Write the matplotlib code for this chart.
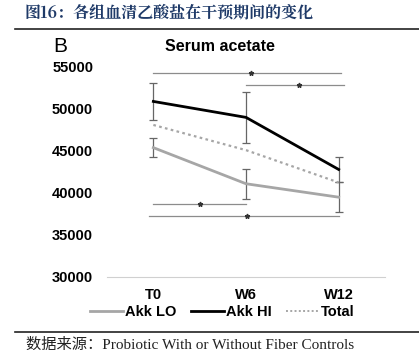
import numpy as np
import matplotlib.pyplot as plt
from matplotlib.lines import Line2D

# serum acetate over the intervention
timepoints = ["T0", "W6", "W12"]
akk_lo = [45400, 41100, 39500]
akk_lo_hi_err = [46500, 42800, 41300]
akk_lo_lo_err = [44300, 39250, 37700]
akk_hi = [50900, 49000, 42800]
akk_hi_hi_err = [53050, 52050, 44300]
akk_hi_lo_err = [48700, 46000, 41250]
total = [48100, 45100, 41250]

# significance brackets: (start idx, end idx, level, star position)
sig_start = [0, 1, 0, -0.05]
sig_end = [2.03, 2.06, 1.0, 2.0]
sig_level = [54250, 52850, 38650, 37250]
sig_star = [1.05, 1.57, 0.5, 1.01]

yticks = [30000, 35000, 40000, 45000, 50000, 55000]

plt.rcParams['font.family'] = ['Liberation Sans', 'DejaVu Sans']

fig = plt.figure(figsize=(4.19, 3.5), dpi=100)
ax = fig.add_axes([0.2554, 0.2086, 0.6635, 0.624])

x = np.arange(len(timepoints))

def err(vals, lo, hi):
    v = np.array(vals)
    return [v - np.array(lo), np.array(hi) - v]

ax.errorbar(x, akk_lo, yerr=err(akk_lo, akk_lo_lo_err, akk_lo_hi_err),
            color="#a6a6a6", lw=2, ecolor="#666666", elinewidth=0.9,
            capsize=3, capthick=0.9)
ax.errorbar(x, akk_hi, yerr=err(akk_hi, akk_hi_lo_err, akk_hi_hi_err),
            color="black", lw=2, ecolor="#666666", elinewidth=0.9,
            capsize=3, capthick=0.9)
ax.plot(x, total, color="#a6a6a6", lw=1.6, ls=(0, (1.2, 1.5)))

for s, e, lvl, st in zip(sig_start, sig_end, sig_level, sig_star):
    ax.plot([s, e], [lvl, lvl], color="#8c8c8c", lw=0.9)
    ax.plot(st, lvl, marker="*", color="#333333", ms=3.5)

ax.set_xlim(-0.5, 2.5)
ax.set_ylim(30000, 56000)
ax.set_yticks(yticks)
ax.set_yticklabels([str(v) for v in yticks], fontsize=10.5, fontweight="bold")
ax.set_xticks(x)
ax.set_xticklabels(timepoints, fontsize=10.5, fontweight="bold")
ax.tick_params(length=0)
ax.tick_params(axis="x", pad=8)
ax.tick_params(axis="y", pad=10)
for side in ["top", "right", "left"]:
    ax.spines[side].set_visible(False)
ax.spines["bottom"].set_color("#d0d0d0")

handles = [Line2D([], [], color="#a6a6a6", lw=2),
           Line2D([], [], color="black", lw=2),
           Line2D([], [], color="#a6a6a6", lw=1.4, ls=(0, (1, 1.2)))]
fig.legend(handles, ["Akk LO", "Akk HI", "Total"], loc="center",
           bbox_to_anchor=(0.53, 0.108), ncol=3, frameon=False,
           prop={"weight": "bold", "size": 10.5}, handlelength=2.3,
           handletextpad=0.1, columnspacing=1.0)

fig.text(0.525, 0.866, "Serum acetate", ha="center", va="center",
         fontsize=11.5, fontweight="bold")
fig.text(0.128, 0.868, "B", ha="left", va="center", fontsize=15)

fig.text(0.058, 0.962, "图16：各组血清乙酸盐在干预期间的变化", ha="left", va="center",
         fontsize=11.5, fontweight="bold", color="#1f3a68",
         family=["Noto Serif CJK SC", "Noto Sans CJK SC", "DejaVu Sans"])
fig.add_artist(Line2D([0.036, 1.0], [0.918, 0.918], color="#222222", lw=1.2))
fig.add_artist(Line2D([0.036, 1.0], [0.052, 0.052], color="#222222", lw=1.2))
fig.text(0.062, 0.016, "数据来源：Probiotic With or Without Fiber Controls",
         ha="left", va="center", fontsize=11, color="#222222",
         family=["Liberation Serif", "Noto Sans CJK SC"])

fig.savefig("out.png", dpi=100)
